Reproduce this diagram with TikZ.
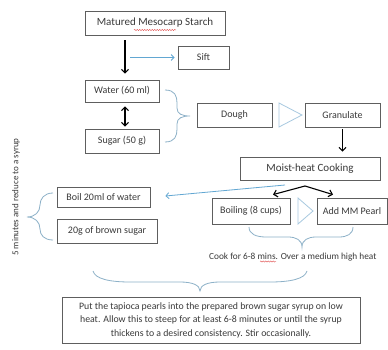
\documentclass[tikz,border=0pt]{standalone}
\usepackage{fontspec}
\setmainfont{Carlito}
\usetikzlibrary{arrows.meta,decorations.pathmorphing}
\definecolor{txt}{HTML}{3A3A3A}
\definecolor{boxc}{HTML}{5E5E5E}
\definecolor{blu}{HTML}{62A7D2}
\definecolor{brc}{HTML}{8DB1C8}
\definecolor{tric}{HTML}{A8C9E0}
\definecolor{spell}{HTML}{E04848}
\begin{document}
\begin{tikzpicture}[x=1pt,y=-1pt,
  box/.style={draw=boxc, line width=0.8pt, text=txt, inner sep=0pt, font=\fontsize{10}{12}\selectfont},
  bigbox/.style={box, font=\fontsize{11}{13}\selectfont},
  blk/.style={draw=black, line width=1.1pt, -{Straight Barb[length=3.5pt,width=7pt]}},
  blkd/.style={draw=black, line width=1.1pt, {Straight Barb[length=3.5pt,width=7pt]}-{Straight Barb[length=3.5pt,width=7pt]}},
  bluarr/.style={draw=blu, line width=0.8pt, -{Straight Barb[length=3pt,width=6pt]}},
  brace/.style={draw=brc, line width=0.8pt},
  tri/.style={draw=tric, line width=0.8pt, line join=miter},
  lbl/.style={text=txt, inner sep=0pt},
  squig/.style={draw=#1, line width=0.4pt, decorate, decoration={snake, amplitude=0.6pt, segment length=2.5pt}}
]
\useasboundingbox[fill=white] (0,0) rectangle (388,350);

% boxes
\node[bigbox, minimum width=140pt, minimum height=24pt] (mms) at (155,23) {Matured Mesocarp Starch};
\node[box, minimum width=51pt, minimum height=23pt] (sift) at (203.5,57.5) {Sift};
\node[box, minimum width=74pt, minimum height=22pt] (water) at (122,91) {Water (60 ml)};
\node[box, minimum width=74pt, minimum height=24pt] (sugar) at (122,141) {Sugar (50 g)};
\node[box, minimum width=75pt, minimum height=24pt] (dough) at (234.5,115) {Dough};
\node[box, minimum width=75pt, minimum height=24pt] (gran) at (342.5,115) {Granulate};
\node[bigbox, minimum width=140pt, minimum height=23pt] (moist) at (310,168.5) {Moist-heat Cooking};
\node[box, minimum width=78pt, minimum height=26pt] (boiling) at (251,211) {Boiling (8 cups)};
\node[box, minimum width=70pt, minimum height=26pt] (addmm) at (352,211) {Add MM Pearl};
\node[box, minimum width=93pt, minimum height=20pt] (boil20) at (103.5,197) {Boil 20ml of water};
\node[box, minimum width=100pt, minimum height=24pt] (brown) at (107,231) {20g of brown sugar};
\node[box, minimum width=298pt, minimum height=46pt, align=center,
      font=\fontsize{9.8}{13.5}\selectfont] (put) at (211,320)
  {Put the tapioca pearls into the prepared brown sugar syrup on low\\
   heat. Allow this to steep for at least 6-8 minutes or until the syrup\\
   thickens to a desired consistency. Stir occasionally.};

% free texts
\node[lbl, anchor=west, font=\fontsize{9.3}{11}\selectfont] (cook) at (209,257) {Cook for 6-8 mins. Over a medium high heat};
\node[lbl, rotate=90, font=\fontsize{9}{11}\selectfont] (syrup) at (16,197) {5 minutes and reduce to a syrup};

% connectors
\draw[blk] ([xshift=-30pt,yshift=-5pt]mms.south) -- ([xshift=3pt,yshift=6pt]water.north);
\coordinate (sb) at (130,57.5);
\draw[bluarr] (sb) -- ([xshift=-3pt]sift.west);
\draw[blkd] ([xshift=3pt,yshift=-4pt]water.south) -- ([xshift=3pt,yshift=2pt]sugar.north);
\draw[blk] ([yshift=-2pt]gran.south) -- ([yshift=5pt]gran.south |- moist.north);
\coordinate (split) at (305,186);
\draw[blk] (split) -- ([xshift=22pt,yshift=3pt]boiling.north);
\draw[blk] (split) -- ([xshift=-19pt,yshift=3pt]addmm.north);
\coordinate (bl) at (285,185);
\draw[bluarr] (bl) -- ([xshift=15pt,yshift=1pt]boil20.east);

% hollow triangles
\draw[tri] (279,103) -- (279,127) -- (302,115) -- cycle;
\draw[tri] (298,198) -- (298,224) -- (313,211) -- cycle;

% braces
\draw[brace] (165,90) .. controls (175,90) and (177,96) .. (177,103) -- (177,108)
  .. controls (177,114) and (182,116) .. (190,116)
  .. controls (182,116) and (177,118) .. (177,124) -- (177,129)
  .. controls (177,136) and (175,142) .. (165,142);
\draw[brace] (53,193) .. controls (44,193) and (40,199) .. (40,205)
  .. controls (40,212) and (35,217) .. (27,217)
  .. controls (35,217) and (40,222) .. (40,229)
  .. controls (40,235) and (44,240) .. (53,240);
\draw[brace] (249,227) .. controls (249,234) and (256,237) .. (266,237) -- (288,237)
  .. controls (296,237) and (302,240) .. (302,247)
  .. controls (302,240) and (308,237) .. (316,237) -- (339,237)
  .. controls (347,237) and (353,234) .. (353,227);
\draw[brace] (93,271) .. controls (95,279) and (110,282) .. (130,282) -- (180,282)
  .. controls (192,282) and (200,285) .. (200,291)
  .. controls (200,285) and (208,282) .. (220,282) -- (270,282)
  .. controls (290,282) and (305,279) .. (307,271);

% proofing marks
\draw[squig=spell] (134,30) -- (176,30);
\draw[squig=spell] (260,261.5) -- (276,261.5);
\end{tikzpicture}
\end{document}
